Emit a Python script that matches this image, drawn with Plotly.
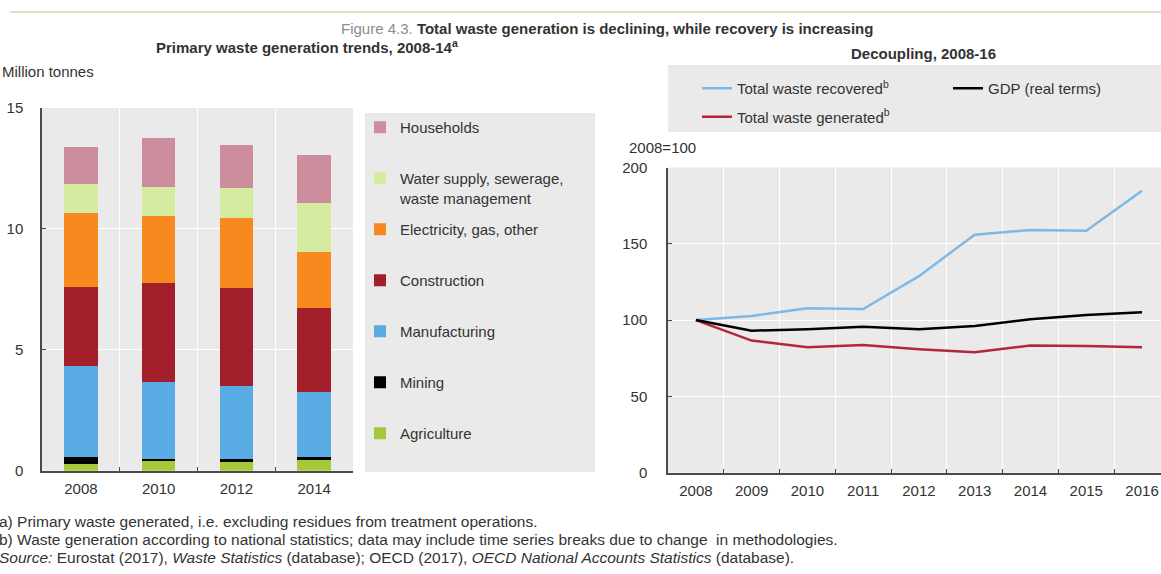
import plotly.graph_objects as go

W, H = 1161, 574

# ---------------- data ----------------
bar_years = ["2008", "2010", "2012", "2014"]
sectors = ["Agriculture", "Mining", "Manufacturing", "Construction",
           "Electricity, gas, other", "Water supply, sewerage,<br>waste management", "Households"]
agriculture = [0.28, 0.41, 0.37, 0.44]
mining = [0.27, 0.06, 0.10, 0.11]
manufacturing = [3.77, 3.18, 3.02, 2.69]
construction = [3.27, 4.10, 4.05, 3.47]
electricity = [3.08, 2.79, 2.90, 2.35]
water = [1.20, 1.20, 1.25, 2.01]
households = [1.50, 2.02, 1.78, 2.00]
sector_values = [agriculture, mining, manufacturing, construction, electricity, water, households]
sector_colors = ["#A6C93A", "#000000", "#58ACE3", "#A21E2A", "#F7891E", "#D5EBA0", "#CC8E9C"]

line_years = ["2008", "2009", "2010", "2011", "2012", "2013", "2014", "2015", "2016"]
recovered = [100, 102.7, 107.8, 107.3, 128.8, 156.0, 159.0, 158.5, 184.7]
gdp = [100, 93.1, 94.0, 95.7, 94.0, 96.2, 100.5, 103.4, 105.1]
generated = [100, 86.6, 82.2, 83.7, 80.9, 78.9, 83.3, 83.1, 82.2]

left_yticks = [0, 5, 10, 15]
right_yticks = [0, 50, 100, 150, 200]

FONT = "Liberation Sans, Arial, sans-serif"
TXT = "#333333"
BG = "#EAEAEA"
AX = "#4a4a4a"


def px(x):
    return x / W


def py(y):
    return 1 - y / H


fig = go.Figure()

n = len(sectors)
for i, (name, vals, col) in enumerate(zip(sectors, sector_values, sector_colors)):
    label = name if "<br>" in name else name + "<br>\u00a0"
    fig.add_trace(go.Bar(
        x=bar_years, y=vals, name=label, marker=dict(color=col, line=dict(width=0)),
        xaxis="x", yaxis="y", legend="legend", legendgroup="s%d" % i,
        legendrank=100 + n - i, width=0.43,
    ))

fig.add_trace(go.Scatter(x=line_years, y=recovered, mode="lines",
                         name="Total waste recovered<sup>b</sup>",
                         line=dict(color="#7DB9E6", width=2.5),
                         xaxis="x2", yaxis="y2", legend="legend2", legendgroup="r"))
fig.add_trace(go.Scatter(x=line_years, y=generated, mode="lines",
                         name="Total waste generated<sup>b</sup>",
                         line=dict(color="#B3263C", width=2.5),
                         xaxis="x2", yaxis="y2", legend="legend2", legendgroup="g"))
fig.add_trace(go.Scatter(x=line_years, y=gdp, mode="lines",
                         name="GDP (real terms)",
                         line=dict(color="#000000", width=2.5),
                         xaxis="x2", yaxis="y2", legend="legend3"))

axis_common = dict(
    showline=True, linecolor=AX, linewidth=1.5,
    ticks="inside", ticklen=4, tickcolor=AX, tickwidth=1.2,
    showgrid=True, gridcolor="#FFFFFF", gridwidth=1,
    zeroline=False,
    tickfont=dict(family=FONT, size=15, color=TXT),
    fixedrange=True,
)

fig.update_layout(
    width=W, height=H,
    margin=dict(l=0, r=0, t=0, b=0, autoexpand=False),
    paper_bgcolor="white",
    plot_bgcolor=BG,
    barmode="stack",
    font=dict(family=FONT, size=15, color=TXT),
    xaxis=dict(axis_common, type="category", domain=[px(42), px(353)],
               range=[-0.5, 3.5], tickson="boundaries", anchor="y",
               ticklabelstandoff=4),
    yaxis=dict(axis_common, domain=[py(470.7), py(108)], range=[0, 15],
               tickvals=left_yticks, anchor="x", ticklabelstandoff=14),
    xaxis2=dict(axis_common, type="category", domain=[px(668), 1.0],
                range=[-0.5, 8.34], tickson="boundaries", anchor="y2",
                ticklabelstandoff=4),
    yaxis2=dict(axis_common, domain=[py(472.7), py(167.5)], range=[0, 200],
                tickvals=right_yticks, anchor="x2", ticklabelstandoff=16),
    legend=dict(
        x=px(360), y=py(111), xanchor="left", yanchor="top",
        traceorder="grouped", tracegroupgap=9,
        bgcolor="rgba(0,0,0,0)", valign="top",
        font=dict(family=FONT, size=15, color=TXT),
    ),
    legend2=dict(
        x=px(697), y=py(72), xanchor="left", yanchor="top",
        traceorder="grouped", tracegroupgap=6,
        bgcolor="rgba(0,0,0,0)",
        font=dict(family=FONT, size=15, color=TXT),
    ),
    legend3=dict(
        x=px(948), y=py(72), xanchor="left", yanchor="top",
        bgcolor="rgba(0,0,0,0)",
        font=dict(family=FONT, size=15, color=TXT),
    ),
    showlegend=True,
)

shapes = [
    # top separator
    dict(type="line", xref="paper", yref="paper", x0=px(10), x1=1.0, y0=py(12), y1=py(12),
         line=dict(color="#D9D5B5", width=1.5)),
    # left legend panel
    dict(type="rect", xref="paper", yref="paper", x0=px(365), x1=px(595), y0=py(472), y1=py(113),
         fillcolor=BG, line=dict(width=0), layer="below"),
    # right legend panel
    dict(type="rect", xref="paper", yref="paper", x0=px(668), x1=1.0, y0=py(132), y1=py(65),
         fillcolor=BG, line=dict(width=0), layer="below"),
]
fig.update_layout(shapes=shapes)

FN = 15.5
ann = [
    dict(text="<span style='color:#8c8c8c'>Figure 4.3. </span><b>Total waste generation is declining, while recovery is increasing</b>",
         x=px(607), y=py(28), xanchor="center", yanchor="middle",
         font=dict(family=FONT, size=15, color="#333333")),
    dict(text="<b>Primary waste generation trends, 2008-14<sup>a</sup></b>",
         x=px(307), y=py(47), xanchor="center", yanchor="middle",
         font=dict(family=FONT, size=15, color="#333333")),
    dict(text="<b>Decoupling, 2008-16</b>",
         x=px(923), y=py(53), xanchor="center", yanchor="middle",
         font=dict(family=FONT, size=15, color="#333333")),
    dict(text="Million tonnes", x=px(0), y=py(72), xanchor="left", yanchor="middle",
         font=dict(family=FONT, size=15, color=TXT)),
    dict(text="2008=100", x=px(698), y=py(147), xanchor="right", yanchor="middle",
         font=dict(family=FONT, size=15, color=TXT)),
    dict(text="a) Primary waste generated, i.e. excluding residues from treatment operations.",
         x=px(-3), y=py(521), xanchor="left", yanchor="middle",
         font=dict(family=FONT, size=FN, color=TXT)),
    dict(text="b) Waste generation according to national statistics; data may include time series breaks due to change  in methodologies.",
         x=px(-3), y=py(539), xanchor="left", yanchor="middle",
         font=dict(family=FONT, size=FN, color=TXT)),
    dict(text="<i>Source:</i> Eurostat (2017), <i>Waste Statistics</i> (database); OECD (2017), <i>OECD National Accounts Statistics</i> (database).",
         x=px(-3), y=py(557), xanchor="left", yanchor="middle",
         font=dict(family=FONT, size=FN, color=TXT)),
]
for a in ann:
    a.update(xref="paper", yref="paper", showarrow=False)
fig.update_layout(annotations=ann)

fig.write_html("out.html", config={"displayModeBar": False},
               post_script="document.body.style.margin='0px';")
